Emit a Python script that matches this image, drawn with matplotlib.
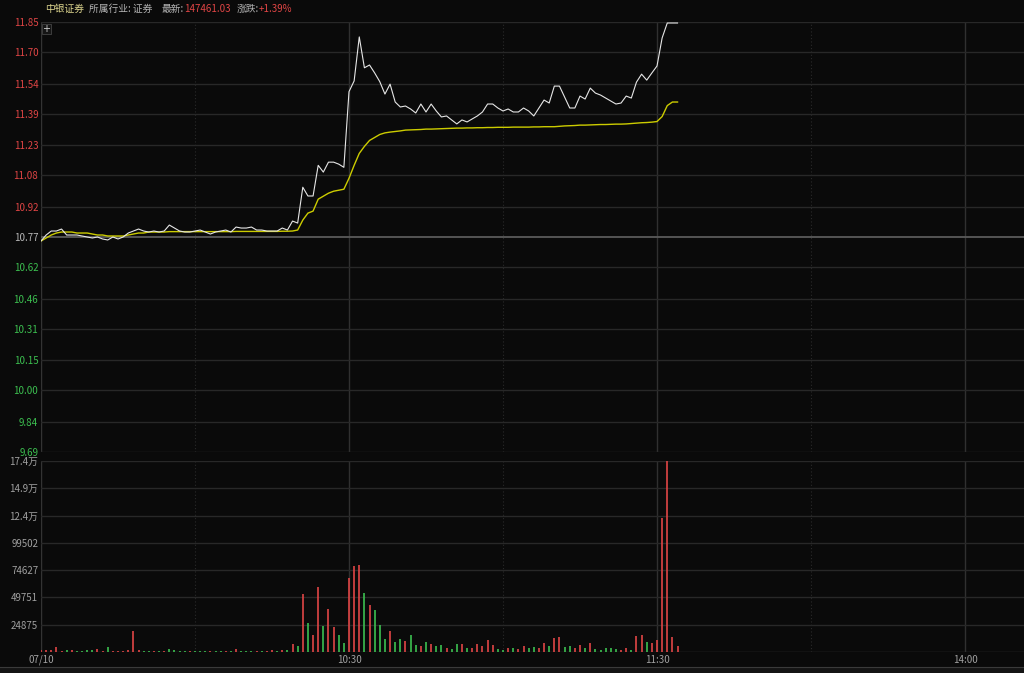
import matplotlib.pyplot as plt
from matplotlib.patches import Rectangle

plt.rcParams['font.family'] = ['Noto Sans CJK SC', 'DejaVu Sans']

W, H = 1024, 673

# minute index from 09:30 (120 = 11:30 / 13:00)
price = [
    10.75, 10.78, 10.80, 10.80, 10.81, 10.78, 10.78, 10.78, 10.775, 10.77,
    10.765, 10.77, 10.76, 10.755, 10.77, 10.76, 10.77, 10.79, 10.80, 10.81,
    10.80, 10.795, 10.80, 10.795, 10.80, 10.83, 10.815, 10.80, 10.795, 10.795,
    10.80, 10.805, 10.795, 10.785, 10.795, 10.80, 10.805, 10.795, 10.82, 10.815,
    10.815, 10.82, 10.805, 10.805, 10.80, 10.80, 10.80, 10.815, 10.805, 10.85,
    10.84, 11.02, 10.976, 10.976, 11.13, 11.096, 11.146, 11.146, 11.136, 11.12,
    11.50, 11.554, 11.775, 11.62, 11.634, 11.594, 11.55, 11.488, 11.538, 11.448,
    11.423, 11.428, 11.413, 11.393, 11.438, 11.398, 11.438, 11.403, 11.373, 11.378,
    11.358, 11.338, 11.358, 11.348, 11.363, 11.378, 11.398, 11.438, 11.438, 11.418,
    11.403, 11.413, 11.398, 11.398, 11.418, 11.403, 11.378, 11.418, 11.458, 11.443,
    11.528, 11.528, 11.473, 11.418, 11.418, 11.478, 11.463, 11.518, 11.493, 11.483,
    11.468, 11.453, 11.438, 11.443, 11.478, 11.468, 11.548, 11.588, 11.558, 11.594,
    11.629, 11.77, 11.845, 11.845, 11.845,
]

avg_price = [
    10.75, 10.765, 10.78, 10.79, 10.795, 10.795, 10.795, 10.79, 10.79, 10.79,
    10.785, 10.78, 10.78, 10.775, 10.775, 10.775, 10.775, 10.78, 10.785, 10.79,
    10.79, 10.795, 10.795, 10.795, 10.795, 10.797, 10.797, 10.797, 10.797, 10.797,
    10.797, 10.797, 10.797, 10.797, 10.797, 10.797, 10.797, 10.797, 10.798, 10.798,
    10.798, 10.798, 10.798, 10.798, 10.798, 10.798, 10.798, 10.799, 10.799, 10.80,
    10.805, 10.855, 10.89, 10.90, 10.96, 10.975, 10.99, 11.00, 11.005, 11.01,
    11.065, 11.13, 11.19, 11.225, 11.255, 11.27, 11.285, 11.293, 11.297, 11.30,
    11.303, 11.307, 11.308, 11.309, 11.31, 11.312, 11.312, 11.313, 11.314, 11.315,
    11.316, 11.317, 11.317, 11.318, 11.318, 11.319, 11.319, 11.32, 11.32, 11.321,
    11.321, 11.321, 11.322, 11.322, 11.322, 11.322, 11.323, 11.323, 11.324, 11.324,
    11.324, 11.326, 11.328, 11.329, 11.33, 11.332, 11.332, 11.333, 11.334, 11.335,
    11.335, 11.336, 11.337, 11.337, 11.338, 11.34, 11.342, 11.344, 11.345, 11.347,
    11.35, 11.375, 11.43, 11.448, 11.448,
]

volume = [
    1500, 1500, 1800, 4200, 1200, 1500, 1500, 1200, 1200, 1500,
    1800, 3000, 1200, 4500, 1200, 1200, 1200, 1500, 19300, 1800,
    1200, 1200, 1200, 1200, 1200, 2500, 2100, 1200, 1200, 1200,
    1200, 1200, 1200, 1200, 1200, 1200, 1200, 1200, 3000, 1200,
    1200, 1200, 1200, 1200, 1200, 1800, 1200, 1800, 1500, 7600,
    5200, 52600, 26600, 15900, 59700, 23600, 39200, 22900, 15300, 8600,
    67900, 78000, 78900, 54200, 42800, 38200, 24500, 12200, 19000, 9200,
    12200, 9800, 15300, 6100, 5500, 9200, 7600, 5500, 6100, 3700,
    2400, 7600, 7000, 4000, 3700, 7600, 5200, 10700, 6100, 3000,
    2100, 4000, 4000, 3000, 5500, 4000, 4600, 4000, 8300, 5200,
    12800, 13800, 4600, 5200, 4000, 6100, 4000, 8300, 3000, 2100,
    3400, 3400, 3000, 2100, 3700, 1500, 14400, 15300, 9200, 8300,
    11300, 121800, 174127, 13800, 5200,
]

# 1 = up (red), 0 = down (green)
up = [
    1, 1, 1, 1, 1, 0, 1, 0, 0, 0,
    0, 1, 1, 0, 1, 1, 1, 1, 1, 1,
    0, 0, 1, 0, 1, 0, 0, 0, 0, 1,
    0, 0, 0, 1, 0, 0, 1, 0, 1, 0,
    0, 0, 1, 0, 1, 1, 0, 1, 0, 1,
    0, 1, 0, 1, 1, 0, 1, 1, 0, 0,
    1, 1, 1, 0, 1, 0, 0, 0, 1, 0,
    0, 1, 0, 0, 1, 0, 1, 0, 0, 1,
    0, 0, 1, 0, 1, 1, 1, 1, 1, 0,
    0, 1, 0, 1, 1, 0, 0, 1, 1, 0,
    1, 1, 0, 0, 1, 1, 0, 1, 0, 0,
    0, 0, 0, 1, 1, 0, 1, 1, 0, 1,
    1, 1, 1, 1, 1,
]

price_ticks = [11.85, 11.70, 11.54, 11.39, 11.23, 11.08, 10.92, 10.77,
               10.62, 10.46, 10.31, 10.15, 10.00, 9.84, 9.69]
prev_close = 10.77
vol_ticks = [24875, 49751, 74627, 99502, 124378, 149254, 174127]
vol_labels = ['24875', '49751', '74627', '99502', '12.4万', '14.9万', '17.4万']
time_pos = [0, 60, 120, 180]
time_labels = ['07/10', '10:30', '11:30', '14:00']
half_hours = [30, 90, 150]

BG = '#0a0a0a'
GRID = '#282828'
RED = '#e04545'
GREEN = '#3cc050'
YELLOW = '#cccc00'
LINE = '#e6e6e6'
LABEL = '#a0a0a0'

fig = plt.figure(figsize=(W / 100, H / 100), dpi=100, facecolor=BG)

def fx(px):
    return px / W

def fy(py):
    return 1 - py / H

left = fx(41)
width = fx(1024 - 41)
ax = fig.add_axes([left, fy(452), width, fy(22) - fy(452)], facecolor=BG)
axv = fig.add_axes([left, fy(652), width, fy(461) - fy(652)], facecolor=BG)

XMAX = (1024 - 41) / (308 / 60)
minutes = list(range(len(price)))

for a in (ax, axv):
    a.set_xlim(0, XMAX)
    a.set_xticks([])
    for s in a.spines.values():
        s.set_visible(False)
    a.axvline(0, color='#333333', lw=1.0, zorder=1)
    for t in time_pos[1:]:
        a.axvline(t, color='#303030', lw=1.0, zorder=1)
    for t in half_hours:
        a.axvline(t, color='#2a2a2a', lw=0.8, ls=(0, (1, 2)), zorder=1)
    a.tick_params(axis='y', length=0, pad=2)

# price panel
ax.set_ylim(9.69, 11.85)
ax.set_yticks(price_ticks)
ax.set_yticklabels([f'{v:.2f}' for v in price_ticks], fontsize=7)
for v, lab in zip(price_ticks, ax.get_yticklabels()):
    if v > prev_close:
        lab.set_color(RED)
    elif v < prev_close:
        lab.set_color(GREEN)
    else:
        lab.set_color('#b8b8b8')
    if v == prev_close:
        ax.axhline(v, color='#5a5a5a', lw=1.3, zorder=1)
    else:
        ax.axhline(v, color=GRID, lw=1.0, zorder=1)

ax.plot(minutes, avg_price, color=YELLOW, lw=1.0, zorder=3)
ax.plot(minutes, price, color=LINE, lw=0.8, zorder=4)

# volume panel
axv.set_ylim(0, 174127)
axv.set_yticks(vol_ticks)
axv.set_yticklabels(vol_labels, fontsize=7, color=LABEL)
for v in vol_ticks:
    axv.axhline(v, color=GRID, lw=1.0, zorder=1)
axv.axhline(0, color='#333333', lw=1.0, zorder=1)
colors = [RED if u else GREEN for u in up]
axv.vlines(minutes, 0, volume, colors=colors, lw=1.2, zorder=3)

for t, lab in zip(time_pos, time_labels):
    axv.text(t, -0.042, lab, transform=axv.get_xaxis_transform(),
             ha='center', va='center', fontsize=7, color=LABEL)

# header
hy = fy(9)
fig.text(fx(45), hy, '中银证券', color='#e0d890', fontsize=7, va='center')
fig.text(fx(89), hy, '所属行业: 证券', color='#b4b4b4', fontsize=7, va='center')
fig.text(fx(162), hy, '最新:', color='#b4b4b4', fontsize=7, va='center')
fig.text(fx(184), hy, '147461.03', color=RED, fontsize=7, va='center')
fig.text(fx(237), hy, '涨跌:', color='#b4b4b4', fontsize=7, va='center')
fig.text(fx(259), hy, '+1.39%', color=RED, fontsize=7, va='center')

# small crosshair button
fig.patches.append(Rectangle((fx(42), fy(34)), fx(9), fy(24) - fy(34),
                             transform=fig.transFigure, facecolor='#151515',
                             edgecolor='#444444', lw=0.6))
fig.text(fx(46.5), fy(29), '+', color='#d0d0d0', fontsize=7,
         ha='center', va='center', family='DejaVu Sans')

# bottom tab strip
fig.patches.append(Rectangle((0, 0), 1, fy(667), transform=fig.transFigure,
                             facecolor='#141414', edgecolor='none'))
fig.lines.append(plt.Line2D([0, 1], [fy(667), fy(667)], transform=fig.transFigure,
                            color='#3a3a3a', lw=0.8))

fig.savefig('out.png', dpi=100, facecolor=BG)
